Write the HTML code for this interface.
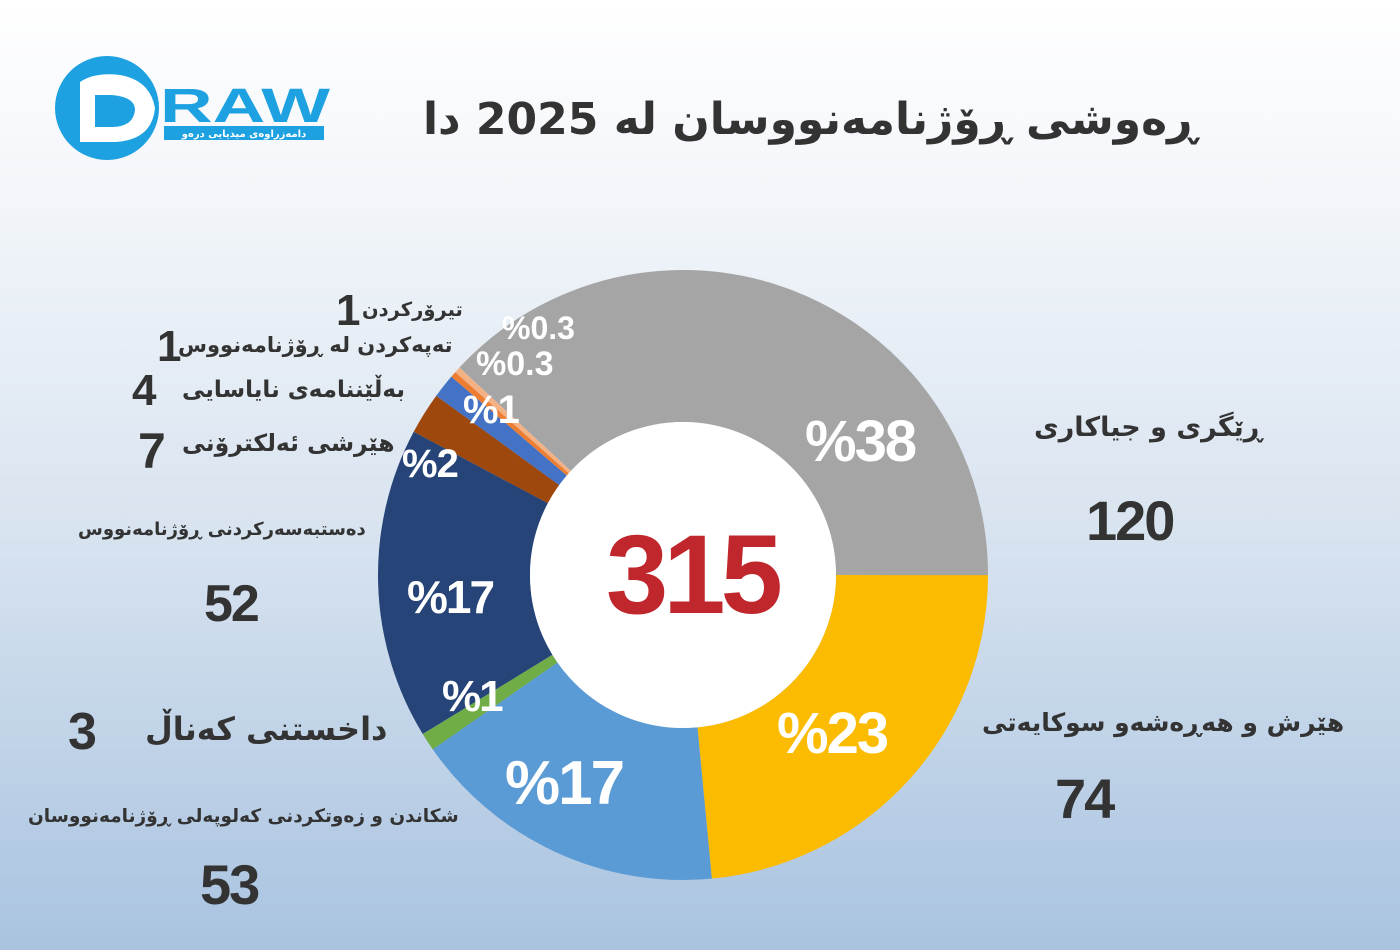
<!DOCTYPE html>
<html><head><meta charset="utf-8"><style>
body{margin:0;width:1400px;height:950px;overflow:hidden;background:linear-gradient(180deg,#ffffff 0%,#f3f6fa 20%,#d9e4f0 55%,#a9c3e0 100%);font-family:"DejaVu Sans","Liberation Sans",sans-serif;position:relative}
.t{position:absolute;white-space:nowrap;color:#333;direction:rtl;font-weight:bold}
.n{position:absolute;font-family:"Liberation Sans",sans-serif;font-weight:bold;color:#333}
.p{position:absolute;font-family:"Liberation Sans",sans-serif;font-weight:bold;color:#fff}
</style></head><body>
<svg width="1400" height="950" style="position:absolute;left:0;top:0">
<circle cx="107" cy="108" r="52" fill="#1da1e0"/>
<path d="M80 85 L80 82 Q95 72 120 75 Q150 80 155 108 Q152 140 115 142 L80 142 Z" fill="#fff"/>
<path d="M95 95 L112 95 Q135 97 135 110 Q133 127 112 127 L95 127 Z" fill="#1da1e0"/>
<text x="160" y="122" font-family="Liberation Sans" font-weight="bold" font-size="48" fill="#1da1e0" textLength="170" lengthAdjust="spacingAndGlyphs">RAW</text>
<rect x="164" y="126" width="160" height="14" fill="#1da1e0"/>
<text x="244" y="137" font-size="10" fill="#fff" text-anchor="middle" font-family="DejaVu Sans" font-weight="bold">دامەزراوەی میدیایی درەو</text>
<g transform="translate(683,575)">
<g fill="none" stroke-width="152">
<circle r="229" stroke="#fbbb00" stroke-dasharray="338 1500" transform="rotate(0)"/>
<circle r="229" stroke="#5b9bd5" stroke-dasharray="242.1 1500" transform="rotate(84.57)"/>
<circle r="229" stroke="#70ad47" stroke-dasharray="13.7 1500" transform="rotate(145.14)"/>
<circle r="229" stroke="#264478" stroke-dasharray="237.5 1500" transform="rotate(148.57)"/>
<circle r="229" stroke="#9e480e" stroke-dasharray="32 1500" transform="rotate(208)"/>
<circle r="229" stroke="#4472c4" stroke-dasharray="18.3 1500" transform="rotate(216)"/>
<circle r="229" stroke="#ed7d31" stroke-dasharray="4.6 1500" transform="rotate(220.57)"/>
<circle r="229" stroke="#f4b183" stroke-dasharray="4.6 1500" transform="rotate(221.71)"/>
<circle r="229" stroke="#a5a5a5" stroke-dasharray="548.1 1500" transform="rotate(222.86)"/>
</g>
<circle r="153" fill="#fff"/>
</g>
</svg>
<div class="t" style="left:410px;top:94px;font-size:44px;width:800px;text-align:center">ڕەوشی ڕۆژنامەنووسان لە 2025 دا</div>
<div class="n" style="left:606px;top:510px;font-size:112px;color:#c0272d;letter-spacing:-5px">315</div>
<div class="p" style="left:805px;top:408px;font-size:58px;letter-spacing:-2px">%38</div>
<div class="p" style="left:777px;top:700px;font-size:58px;letter-spacing:-2px">%23</div>
<div class="p" style="left:505px;top:748px;font-size:62px;letter-spacing:-2px">%17</div>
<div class="p" style="left:407px;top:570px;font-size:46px;letter-spacing:-2px">%17</div>
<div class="p" style="left:442px;top:672px;font-size:44px;letter-spacing:-2px">%1</div>
<div class="p" style="left:402px;top:442px;font-size:40px;letter-spacing:-1px">%2</div>
<div class="p" style="left:463px;top:388px;font-size:40px;letter-spacing:-1px">%1</div>
<div class="p" style="left:476px;top:345px;font-size:34px">%0.3</div>
<div class="p" style="left:502px;top:310px;font-size:32px">%0.3</div>
<div class="t" style="left:1034px;top:412px;font-size:27px">ڕێگری و جیاکاری</div>
<div class="n" style="left:1086px;top:488px;font-size:56px;letter-spacing:-2px">120</div>
<div class="t" style="left:982px;top:708px;font-size:25px">هێرش و هەڕەشەو سوکایەتی</div>
<div class="n" style="left:1055px;top:766px;font-size:56px;letter-spacing:-2px">74</div>
<div class="t" style="left:28px;top:806px;font-size:18.5px">شکاندن و زەوتکردنی کەلوپەلی ڕۆژنامەنووسان</div>
<div class="n" style="left:200px;top:852px;font-size:56px;letter-spacing:-2px">53</div>
<div class="t" style="left:145px;top:710px;font-size:32px">داخستنی کەناڵ</div>
<div class="n" style="left:68px;top:702px;font-size:52px">3</div>
<div class="t" style="left:78px;top:519px;font-size:18px;letter-spacing:-0.3px">دەستبەسەرکردنی ڕۆژنامەنووس</div>
<div class="n" style="left:204px;top:574px;font-size:52px;letter-spacing:-2px">52</div>
<div class="t" style="left:182px;top:429px;font-size:23.5px">هێرشی ئەلکترۆنی</div>
<div class="n" style="left:138px;top:422px;font-size:50px">7</div>
<div class="t" style="left:182px;top:377px;font-size:23px">بەڵێننامەی نایاسایی</div>
<div class="n" style="left:132px;top:366px;font-size:44px">4</div>
<div class="t" style="left:178px;top:333px;font-size:21px">تەپەکردن لە ڕۆژنامەنووس</div>
<div class="n" style="left:157px;top:322px;font-size:44px">1</div>
<div class="t" style="left:362px;top:298px;font-size:19.5px">تیرۆرکردن</div>
<div class="n" style="left:336px;top:286px;font-size:44px">1</div>
</body></html>
